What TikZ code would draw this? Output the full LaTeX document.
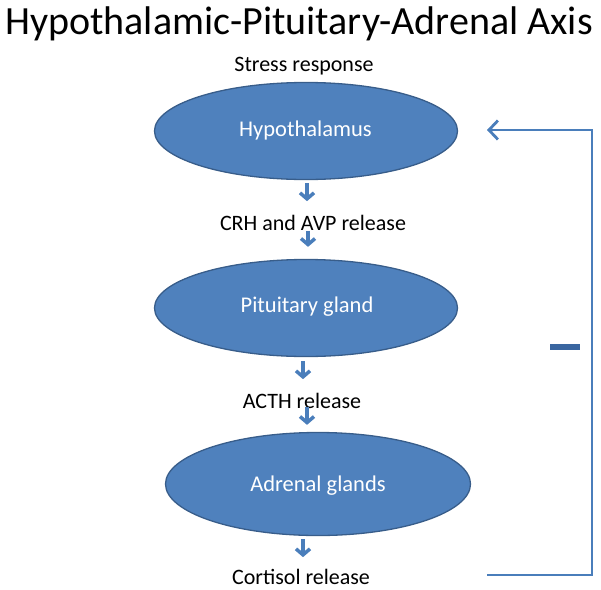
\documentclass[tikz,border=0pt]{standalone}
\usepackage{fontspec}
\setmainfont{Carlito}
\usetikzlibrary{shapes.geometric,arrows.meta,calc}
\definecolor{fillblue}{HTML}{4F81BD}
\definecolor{edgeblue}{HTML}{385D8A}
\definecolor{lineblue}{HTML}{4A7EBB}
\definecolor{minusblue}{HTML}{3A66A0}
\tikzset{
  organ/.style={ellipse, draw=edgeblue, line width=1.3pt, fill=fillblue,
    minimum width=303pt, minimum height=97pt, inner sep=0pt},
  organtext/.style={text=white, font=\fontsize{22.5}{26}\selectfont},
  lbl/.style={anchor=base, font=\fontsize{22}{26}\selectfont, inner sep=0pt},
  smallarrow/.style={draw=lineblue, line width=3.5pt,
    -{Straight Barb[length=6pt,width=14pt,line width=3.5pt]}},
  feedback/.style={draw=lineblue, line width=2.8pt,
    -{Straight Barb[length=9pt,width=19pt,line width=2.8pt]}}
}
\begin{document}
\begin{tikzpicture}[x=1pt,y=-1pt]
\useasboundingbox (0,0) rectangle (601,589);
\node[anchor=base, font=\fontsize{40}{46}\selectfont, inner sep=0pt] (title) at (299,34) {Hypothalamic-Pituitary-Adrenal Axis};
\node[lbl] (stress) at (304,71) {Stress response};
\node[organ] (hyp) at (306,131) {};
\node[organtext] (hyptxt) at (305.5,130) {Hypothalamus};
\node[lbl] (crh) at (313,230) {CRH and AVP release};
\node[organ] (pit) at (306,308) {};
\node[organtext] (pittxt) at (307,307) {Pituitary gland};
\node[lbl] (acth) at (302,408) {ACTH release};
\node[organ, minimum height=103pt, minimum width=305pt] (adr) at (318,484) {};
\node[organtext] (adrtxt) at (318,486) {Adrenal glands};
\node[lbl] (cort) at (301,584) {Cortisol release};
\draw[smallarrow] ($(hyp.south)+(1,3)$) -- ($(hyp.south)+(1,21)$);
\draw[smallarrow] ($(pit.north)+(2,-28)$) -- ($(pit.north)+(2,-12)$);
\draw[smallarrow] ($(pit.south)+(-3,4)$) -- ($(pit.south)+(-3,22)$);
\draw[smallarrow] ($(adr.north)+(-11,-25)$) -- ($(adr.north)+(-11,-7)$);
\draw[smallarrow] ($(adr.south)+(-15,3)$) -- ($(adr.south)+(-15,21)$);
\coordinate (fbstart) at (487,575);
\coordinate (fbcorner1) at (592,575);
\coordinate (fbend) at (487,130);
\draw[feedback] (fbstart) -- (fbcorner1) |- (fbend);
\fill[minusblue] (550,344) rectangle (580,349.5);
\end{tikzpicture}
\end{document}
